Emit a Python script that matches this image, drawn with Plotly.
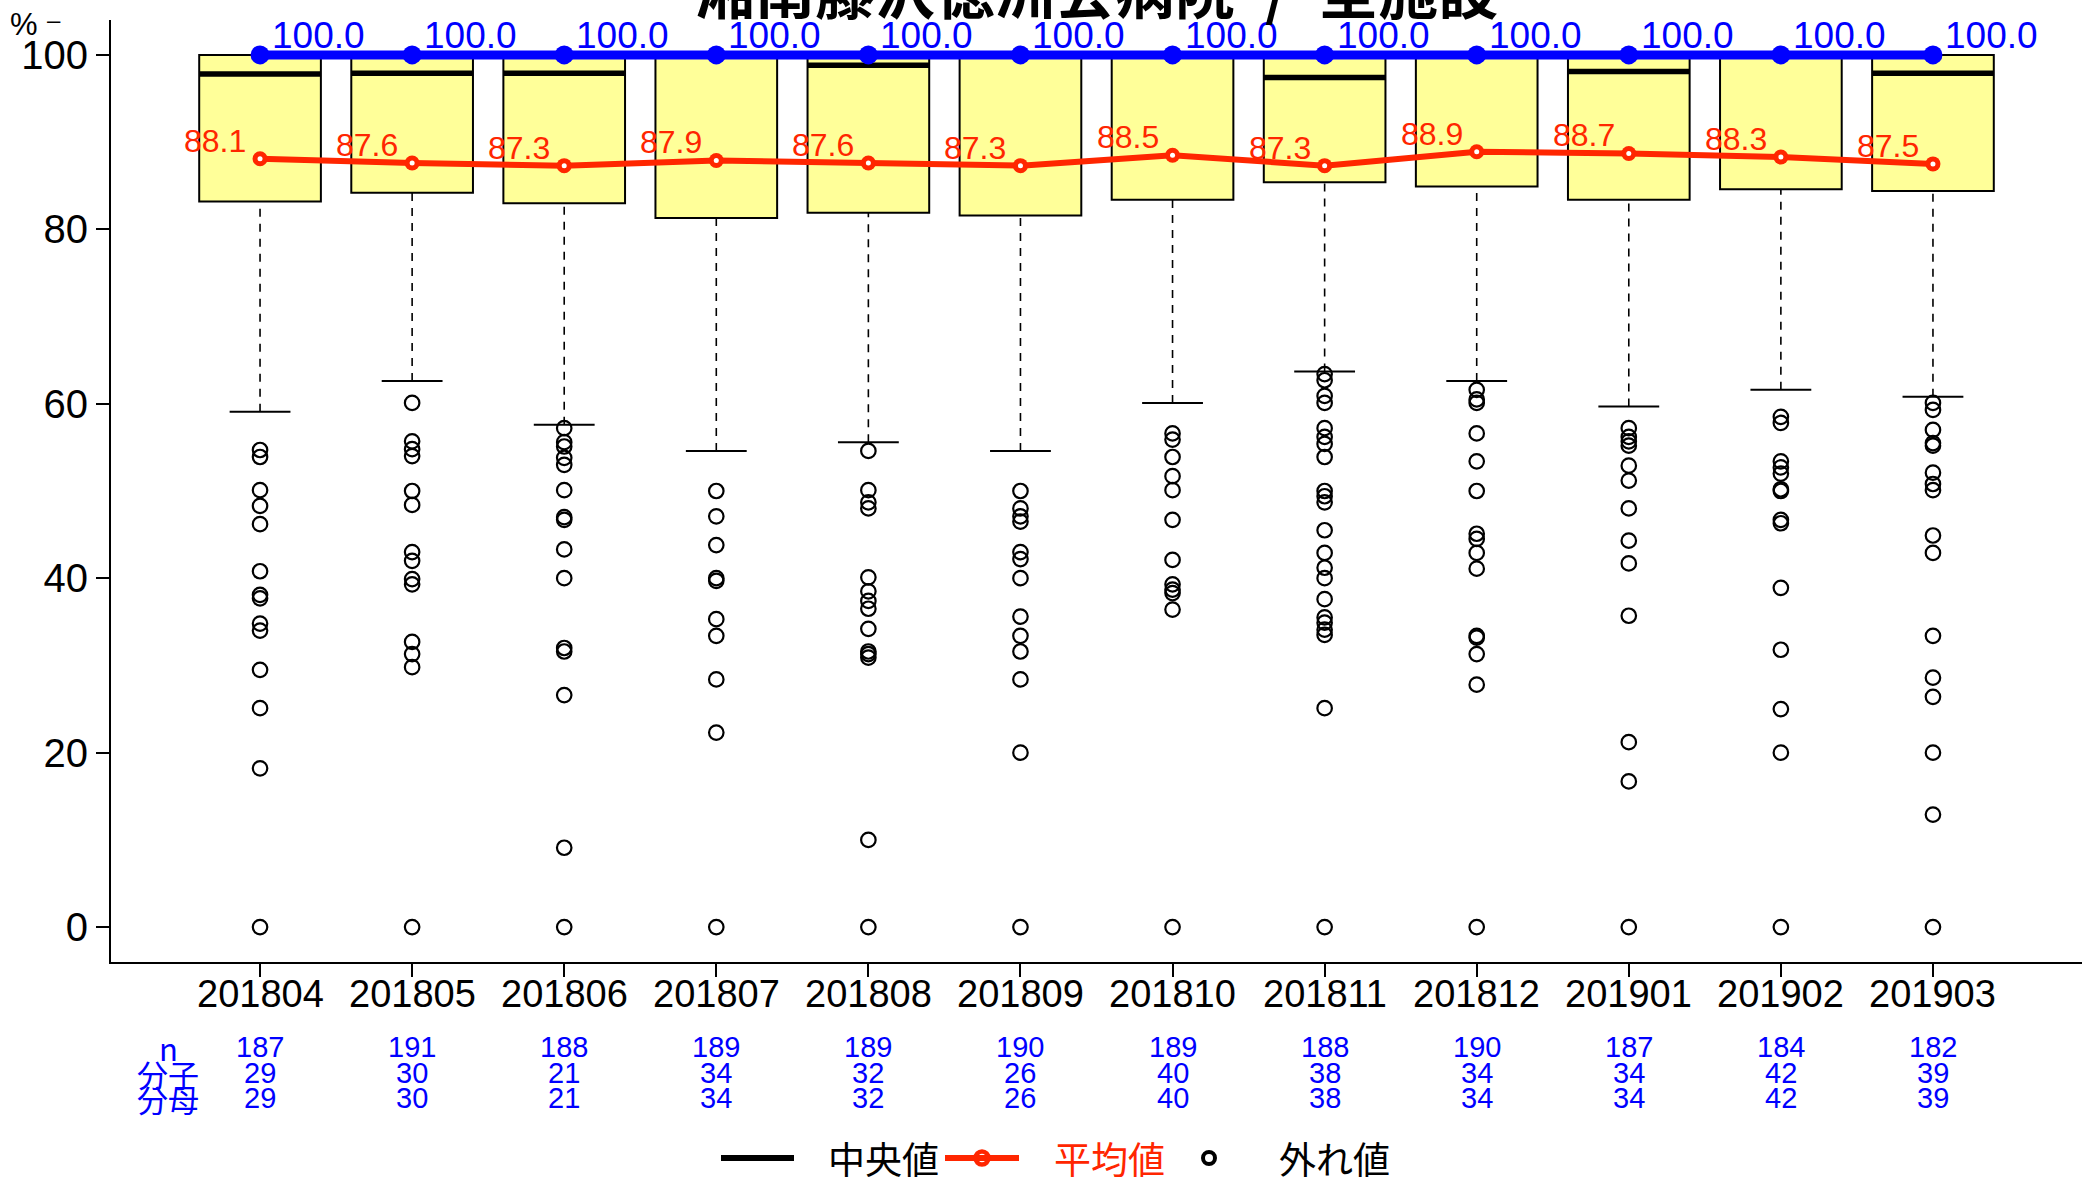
import plotly.graph_objects as go

# ---------------- data ----------------
months = ["201804", "201805", "201806", "201807", "201808", "201809",
          "201810", "201811", "201812", "201901", "201902", "201903"]
q1 = [83.2, 84.2, 83.0, 81.3, 81.9, 81.6, 83.4, 85.4, 84.9, 83.4, 84.6, 84.4]
median = [97.8, 97.9, 97.9, 100.0, 98.8, 100.0, 100.0, 97.4, 100.0, 98.1, 100.0, 97.9]
q3 = [100.0, 100.0, 100.0, 100.0, 100.0, 100.0, 100.0, 100.0, 100.0, 100.0, 100.0, 100.0]
lower_whisker = [59.1, 62.6, 57.6, 54.6, 55.6, 54.6, 60.1, 63.7, 62.6, 59.7, 61.6, 60.8]
mean = [88.1, 87.6, 87.3, 87.9, 87.6, 87.3, 88.5, 87.3, 88.9, 88.7, 88.3, 87.5]
hospital = [100.0, 100.0, 100.0, 100.0, 100.0, 100.0, 100.0, 100.0, 100.0, 100.0, 100.0, 100.0]

n_count = [187, 191, 188, 189, 189, 190, 189, 188, 190, 187, 184, 182]
numerator = [29, 30, 21, 34, 32, 26, 40, 38, 34, 34, 42, 39]
denominator = [29, 30, 21, 34, 32, 26, 40, 38, 34, 34, 42, 39]

out_201804 = [54.7, 53.9, 50.1, 48.3, 46.2, 40.8, 38.1, 37.7, 34.8, 34.0, 29.5, 25.1, 18.2, 0.0]
out_201805 = [60.1, 55.7, 54.8, 54.0, 50.0, 48.4, 43.0, 42.0, 39.9, 39.3, 32.7, 31.3, 29.8, 0.0]
out_201806 = [57.2, 55.6, 55.1, 53.8, 53.0, 50.1, 47.0, 46.7, 43.3, 40.0, 32.0, 31.6, 26.6, 9.1, 0.0]
out_201807 = [50.0, 47.1, 43.8, 40.0, 39.7, 35.3, 33.4, 28.4, 22.3, 0.0]
out_201808 = [54.6, 50.1, 48.7, 48.0, 40.1, 38.5, 37.4, 36.5, 34.2, 31.6, 31.3, 30.9, 10.0, 0.0]
out_201809 = [50.0, 48.0, 47.1, 46.5, 43.0, 42.2, 40.0, 35.6, 33.4, 31.6, 28.4, 20.0, 0.0]
out_201810 = [56.6, 55.9, 53.9, 51.7, 50.1, 46.7, 42.1, 39.3, 38.7, 38.3, 36.4, 0.0]
out_201811 = [63.4, 62.7, 60.9, 60.1, 57.2, 56.2, 55.4, 53.9, 50.0, 49.4, 48.7, 45.5, 42.9,
              41.2, 40.0, 37.6, 35.5, 34.9, 34.1, 33.5, 25.1, 0.0]
out_201812 = [61.6, 60.5, 60.1, 56.6, 53.4, 50.0, 45.1, 44.5, 42.9, 41.1, 33.4, 33.2, 31.3, 27.8, 0.0]
out_201901 = [57.2, 56.2, 55.7, 55.2, 52.9, 51.2, 48.0, 44.3, 41.7, 35.7, 21.2, 16.7, 0.0]
out_201902 = [58.5, 57.8, 53.4, 52.7, 52.0, 50.2, 50.0, 46.7, 46.3, 38.9, 31.8, 25.0, 20.0, 0.0]
out_201903 = [60.1, 59.3, 57.0, 55.5, 55.2, 52.1, 50.8, 50.1, 44.9, 42.9, 33.4, 28.6, 26.4,
              20.0, 12.9, 0.0]
outliers = [out_201804, out_201805, out_201806, out_201807, out_201808, out_201809,
            out_201810, out_201811, out_201812, out_201901, out_201902, out_201903]

title_text = "湘南藤沢徳洲会病院\u2002/\u2002全施設"
row_labels = ["n", "分子", "分母"]
legend_labels = ["中央値", "平均値", "外れ値"]

# ---------------- style / layout constants ----------------
W, H = 2082, 1181
RED = "rgb(255,38,0)"
BLUE = "#0000FF"
YELLOW = "#FFFF99"
NUM_FONT = "Liberation Sans, Arial, Noto Sans CJK JP"
CJK_FONT = "Noto Sans CJK JP, Liberation Sans"
BOX_W = 0.8
CAP_W = 0.4
PLOT_L, PLOT_T, PLOT_B = 111, 20, 962          # plot-region edges in pixels


def px_x(p):
    return p / W


def px_y(p):
    return (H - p) / H


idx = list(range(len(months)))
fig = go.Figure()

# boxes (Q1..Q3)
fig.add_trace(go.Bar(
    x=idx, y=[b - a for a, b in zip(q1, q3)], base=q1, width=BOX_W,
    marker=dict(color=YELLOW, line=dict(color="black", width=2)),
    showlegend=False, hoverinfo="skip"))

# dashed lower whiskers
wx, wy = [], []
for i in idx:
    wx += [i, i, None]
    wy += [lower_whisker[i], q1[i], None]
fig.add_trace(go.Scatter(x=wx, y=wy, mode="lines",
                         line=dict(color="black", width=1.6, dash="8px,7px"),
                         showlegend=False, hoverinfo="skip"))

# whisker caps
cx, cy = [], []
for i in idx:
    cx += [i - CAP_W / 2, i + CAP_W / 2, None]
    cy += [lower_whisker[i], lower_whisker[i], None]
fig.add_trace(go.Scatter(x=cx, y=cy, mode="lines",
                         line=dict(color="black", width=2),
                         showlegend=False, hoverinfo="skip"))

# medians
mx, my = [], []
for i in idx:
    mx += [i - BOX_W / 2, i + BOX_W / 2, None]
    my += [median[i], median[i], None]
fig.add_trace(go.Scatter(x=mx, y=my, mode="lines",
                         line=dict(color="black", width=5.5),
                         showlegend=False, hoverinfo="skip"))

# outliers
ox, oy = [], []
for i, vals in enumerate(outliers):
    ox += [i] * len(vals)
    oy += vals
fig.add_trace(go.Scatter(x=ox, y=oy, mode="markers",
                         marker=dict(symbol="circle-open", size=14.5, color="black",
                                     line=dict(width=2.2, color="black")),
                         showlegend=False))

# mean line (red disc with a white centre)
fig.add_trace(go.Scatter(
    x=idx, y=mean, mode="lines+markers",
    line=dict(color=RED, width=6),
    marker=dict(symbol="circle", size=15, color=RED),
    cliponaxis=False, showlegend=False))
fig.add_trace(go.Scatter(
    x=idx, y=mean, mode="markers",
    marker=dict(symbol="circle", size=5, color="white"),
    cliponaxis=False, showlegend=False, hoverinfo="skip"))

# hospital line (blue)
fig.add_trace(go.Scatter(
    x=idx, y=hospital, mode="lines+markers",
    line=dict(color=BLUE, width=9),
    marker=dict(symbol="circle", size=19, color=BLUE),
    cliponaxis=False, showlegend=False))

# value labels
for i in idx:
    fig.add_annotation(x=i, y=hospital[i], xref="x", yref="y", text=f"{hospital[i]:.1f}",
                       showarrow=False, xanchor="left", yanchor="bottom",
                       xshift=10, yshift=-3,
                       font=dict(size=37, color=BLUE, family=NUM_FONT))
    fig.add_annotation(x=i, y=mean[i], xref="x", yref="y", text=f"{mean[i]:.1f}",
                       showarrow=False, xanchor="right", yanchor="bottom",
                       xshift=-12, yshift=-2,
                       font=dict(size=32, color=RED, family=NUM_FONT))

# x tick labels
for i in idx:
    fig.add_annotation(x=i, y=px_y(994), xref="x", yref="paper", text=months[i],
                       showarrow=False, xanchor="center", yanchor="middle",
                       font=dict(size=38, color="black", family=NUM_FONT))

# table below the axis
row_py = [1047, 1073, 1098]
for r, vals in enumerate([n_count, numerator, denominator]):
    fig.add_annotation(x=px_x(168), y=px_y(row_py[r]), xref="paper", yref="paper",
                       text=row_labels[r], showarrow=False, xanchor="center",
                       yanchor="middle", font=dict(size=31, color=BLUE, family=CJK_FONT))
    for i in idx:
        fig.add_annotation(x=i, y=px_y(row_py[r]), xref="x", yref="paper", text=str(vals[i]),
                           showarrow=False, xanchor="center", yanchor="middle",
                           font=dict(size=29, color=BLUE, family=NUM_FONT))

# title (partly cut off at top, as in the reference)
fig.add_annotation(x=(px_x(PLOT_L) + 1) / 2, y=px_y(-12), xref="paper", yref="paper",
                   text=title_text, showarrow=False, xanchor="center", yanchor="middle",
                   font=dict(size=60, color="black", family=CJK_FONT, weight="bold"))
# unit label
fig.add_annotation(x=px_x(24), y=px_y(25), xref="paper", yref="paper", text="%",
                   showarrow=False, xanchor="center", yanchor="middle",
                   font=dict(size=31, color="black", family=NUM_FONT))
fig.add_annotation(x=px_x(54), y=px_y(20), xref="paper", yref="paper", text="–",
                   showarrow=False, xanchor="center", yanchor="middle",
                   font=dict(size=24, color="black", family=NUM_FONT))

# ---------------- legend (drawn on a pixel-unit helper axis) ----------------
LEG_Y = 1158
fig.add_trace(go.Scatter(x=[721, 794], y=[LEG_Y, LEG_Y], mode="lines", xaxis="x2", yaxis="y2",
                         line=dict(color="black", width=6), showlegend=False, hoverinfo="skip"))
fig.add_trace(go.Scatter(x=[945, 1019], y=[LEG_Y, LEG_Y], mode="lines", xaxis="x2", yaxis="y2",
                         line=dict(color=RED, width=6), showlegend=False, hoverinfo="skip"))
fig.add_trace(go.Scatter(x=[982], y=[LEG_Y], mode="markers", xaxis="x2", yaxis="y2",
                         marker=dict(symbol="circle-open", size=13, color=RED,
                                     line=dict(width=4.5, color=RED)),
                         showlegend=False, hoverinfo="skip"))
fig.add_trace(go.Scatter(x=[1209], y=[LEG_Y], mode="markers", xaxis="x2", yaxis="y2",
                         marker=dict(symbol="circle-open", size=12, color="black",
                                     line=dict(width=4, color="black")),
                         showlegend=False, hoverinfo="skip"))
for txt, lx, col in zip(legend_labels, [826, 1052, 1277], ["black", RED, "black"]):
    fig.add_annotation(x=lx, y=LEG_Y, xref="x2", yref="y2", text=txt, showarrow=False,
                       xanchor="left", yanchor="middle",
                       font=dict(size=37, color=col, family=CJK_FONT))

fig.update_layout(
    width=W, height=H,
    margin=dict(l=0, r=0, t=0, b=0),
    plot_bgcolor="white", paper_bgcolor="white",
    font=dict(family=NUM_FONT, color="black"),
    barmode="overlay",
    showlegend=False,
    xaxis=dict(domain=[px_x(PLOT_L), 1], range=[-0.98, 11.98], anchor="y",
               tickmode="array", tickvals=idx, showticklabels=False,
               showline=True, linecolor="black", linewidth=2,
               ticks="outside", ticklen=13, tickwidth=2, tickcolor="black",
               showgrid=False, zeroline=False, automargin=False),
    yaxis=dict(domain=[px_y(PLOT_B), px_y(PLOT_T)], range=[-4, 104], anchor="x",
               tickmode="array", tickvals=[0, 20, 40, 60, 80, 100],
               showline=True, linecolor="black", linewidth=2,
               ticks="outside", ticklen=13, tickwidth=2, tickcolor="black",
               tickfont=dict(size=40, family=NUM_FONT), ticklabelstandoff=0,
               showgrid=False, zeroline=False, automargin=False),
    xaxis2=dict(domain=[0, 1], range=[0, W], anchor="y2", visible=False, fixedrange=True),
    yaxis2=dict(domain=[0, px_y(1063)], range=[H, 1063], anchor="x2", visible=False,
                fixedrange=True),
)

fig.write_html("out.html", config={"displayModeBar": False},
               post_script="document.body.style.margin='0';"
                           "document.body.style.overflow='hidden';")
